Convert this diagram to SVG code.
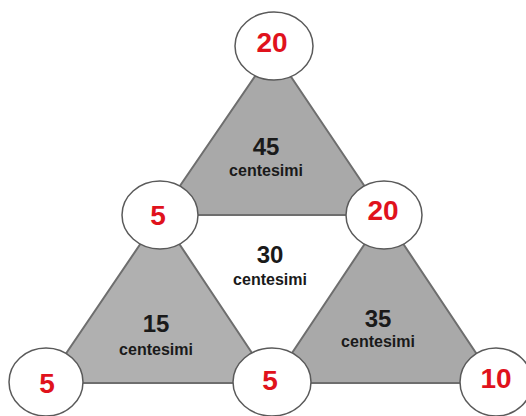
<svg xmlns="http://www.w3.org/2000/svg" width="526" height="416" viewBox="0 0 526 416">
<style>
.tri{fill:#a9a9a9;stroke:#6e6e6e;stroke-width:2;stroke-linejoin:round}
.coin{fill:#ffffff;stroke:#5a5a5a;stroke-width:1.5}
.val{font-family:"Liberation Sans",Arial,sans-serif;font-weight:bold;font-size:28px;fill:#e0121c;text-anchor:middle}
.num{font-family:"Liberation Sans",Arial,sans-serif;font-weight:bold;font-size:24px;fill:#1a1a1a;text-anchor:middle}
.lab{font-family:"Liberation Sans",Arial,sans-serif;font-weight:bold;font-size:16px;fill:#1a1a1a;text-anchor:middle}
</style>
<rect width="526" height="416" fill="#ffffff"/>
<g id="connectors">
  <g id="tri-top">
    <polygon class="tri" points="273,50 160,215 384,215"/>
    <text class="num" x="266" y="155">45</text>
    <text class="lab" x="266" y="176">centesimi</text>
  </g>
  <g id="tri-left">
    <polygon class="tri" points="160,215 46,383 272,383" fill="#b0b0b0" style="fill:#b0b0b0"/>
    <text class="num" x="156" y="332">15</text>
    <text class="lab" x="156" y="355">centesimi</text>
  </g>
  <g id="tri-right">
    <polygon class="tri" points="384,215 272,383 496,383"/>
    <text class="num" x="378" y="327">35</text>
    <text class="lab" x="378" y="347">centesimi</text>
  </g>
  <g id="tri-middle">
    <text class="num" x="270" y="263">30</text>
    <text class="lab" x="270" y="285">centesimi</text>
  </g>
</g>
<g id="coin-top"><ellipse class="coin" cx="274" cy="46" rx="39" ry="34"/><text class="val" x="272" y="52">20</text></g>
<g id="coin-midleft"><ellipse class="coin" cx="160" cy="215" rx="38" ry="34"/><text class="val" x="158" y="225">5</text></g>
<g id="coin-midright"><ellipse class="coin" cx="384" cy="215" rx="38" ry="34"/><text class="val" x="383" y="220">20</text></g>
<g id="coin-botleft"><ellipse class="coin" cx="46" cy="382" rx="37" ry="34"/><text class="val" x="47" y="393">5</text></g>
<g id="coin-botmid"><ellipse class="coin" cx="272" cy="382" rx="39" ry="34"/><text class="val" x="270" y="390">5</text></g>
<g id="coin-botright"><ellipse class="coin" cx="496" cy="382" rx="36" ry="34"/><text class="val" x="496" y="388">10</text></g>
</svg>
